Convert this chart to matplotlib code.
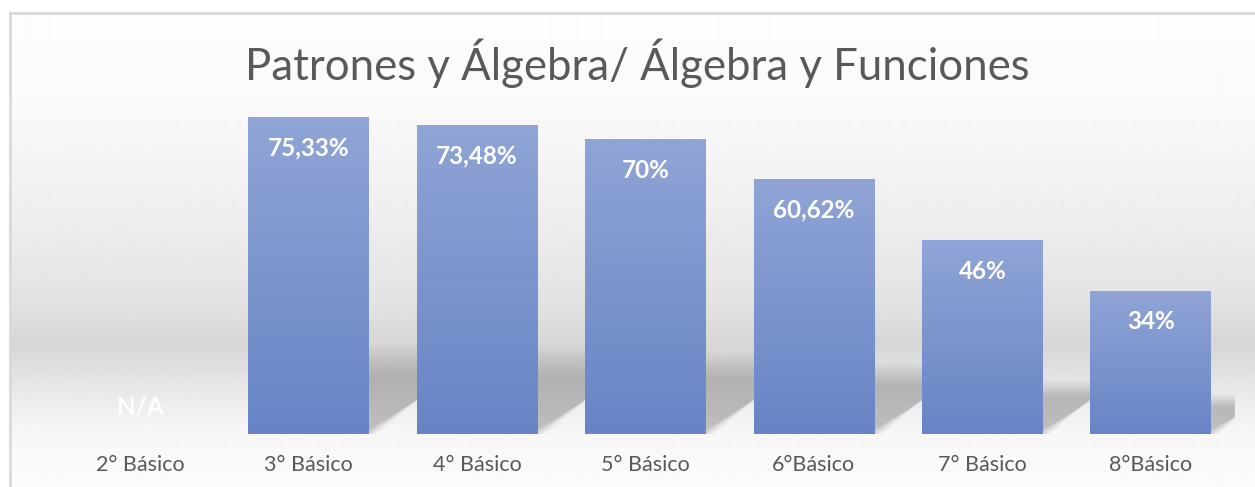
import numpy as np
import matplotlib
matplotlib.use("Agg")
import matplotlib.pyplot as plt
from matplotlib.colors import LinearSegmentedColormap

plt.rcParams['font.family'] = ['Lato', 'DejaVu Sans']

# data
categories = ["2° Básico", "3° Básico", "4° Básico", "5° Básico", "6°Básico", "7° Básico", "8°Básico"]
values = [0, 75.33, 73.48, 70, 60.62, 46, 34]
value_labels = ["N/A", "75,33%", "73,48%", "70%", "60,62%", "46%", "34%"]

W, H = 1255, 487
fig = plt.figure(figsize=(W / 100, H / 100), dpi=100)
fig.patch.set_facecolor("white")

# chart-area background: vertical grey gradient with a darker band
bg = fig.add_axes([10 / W, 0, 1 - 10 / W, (H - 13) / H], zorder=0)
ys = np.arange(13, H)
stop_y = [13, 100, 200, 300, 345, 383, 433, 487]
stop_v = [253, 250, 240, 227, 214, 230, 247, 251]
grey = np.interp(ys, stop_y, stop_v) / 255.0
img = np.repeat(grey[:, None], 2, axis=1)
bg.imshow(img, cmap="gray", vmin=0, vmax=1, aspect="auto", extent=[0, 1, 0, 1])
bg.set_axis_off()

# chart border
fig.add_artist(plt.Line2D([10 / W, 1], [(H - 13) / H] * 2, color="#D9D9D9", lw=2))
fig.add_artist(plt.Line2D([10 / W] * 2, [0, (H - 13) / H], color="#D9D9D9", lw=2))

ax = fig.add_axes([56 / W, 53 / H, (1235 - 56) / W, 336.6 / H], zorder=1)
ax.patch.set_alpha(0)
ax.set_xlim(-0.5, 6.5)
ax.set_ylim(0, 80)
for s in ax.spines.values():
    s.set_visible(False)
ax.set_yticks([])

x = np.arange(len(categories))
bw = 0.716

# soft perspective shadows behind the bars
px_per_unit = 336.6 / 80
px_per_cat = (1235 - 56) / 7
n_layers = 14
for xi, v in zip(x, values):
    if v <= 0:
        continue
    hs = 0.234 * v
    dx = hs * px_per_unit / 0.72 / px_per_cat
    xr = xi + bw / 2
    xl = xi - bw / 2
    for k in range(n_layers):
        f = 0.8 + 0.4 * k / (n_layers - 1)
        h = hs * f
        d = dx * (0.9 + 0.2 * k / (n_layers - 1))
        ax.fill([xl, xr - 0.05 + 0.1 * k / (n_layers - 1), xr + d, xl + d],
                [0, 0, h, h], color="black", alpha=0.014, lw=0, zorder=1)

# bars with vertical gradient
bar_cmap = LinearSegmentedColormap.from_list("bar", ["#6884C5", "#90A5D6"])
grad = np.linspace(0, 1, 256)[:, None]
bars = ax.bar(x, values, width=bw, color="none", zorder=2)
for b in bars:
    if b.get_height() <= 0:
        continue
    x0, w, h = b.get_x(), b.get_width(), b.get_height()
    im = ax.imshow(grad, cmap=bar_cmap, origin="lower", aspect="auto",
                   extent=[x0, x0 + w, 0, h], zorder=3)
    im.set_clip_path(b)
ax.set_xlim(-0.5, 6.5)
ax.set_ylim(0, 80)

# data labels
for xi, v, lab in zip(x, values, value_labels):
    if v > 0:
        ax.annotate(lab, (xi, v), xytext=(0, -31 * 0.72), textcoords="offset points",
                    ha="center", va="center", color="white", fontsize=17.5,
                    fontweight="bold", zorder=4)
    else:
        ax.annotate(lab, (xi, 0), xytext=(0, 27 * 0.72), textcoords="offset points",
                    ha="center", va="center", color="white", fontsize=17.5,
                    fontweight="bold", zorder=4)

ax.set_xticks(x, categories)
ax.tick_params(axis="x", length=0, pad=15, labelsize=15.5, labelcolor="#595959")

fig.text(637.5 / W, (H - 80) / H, "Patrones y Álgebra/ Álgebra y Funciones",
         ha="center", va="baseline", fontsize=31.5, color="#595959")

fig.savefig("out.png", dpi=100)
